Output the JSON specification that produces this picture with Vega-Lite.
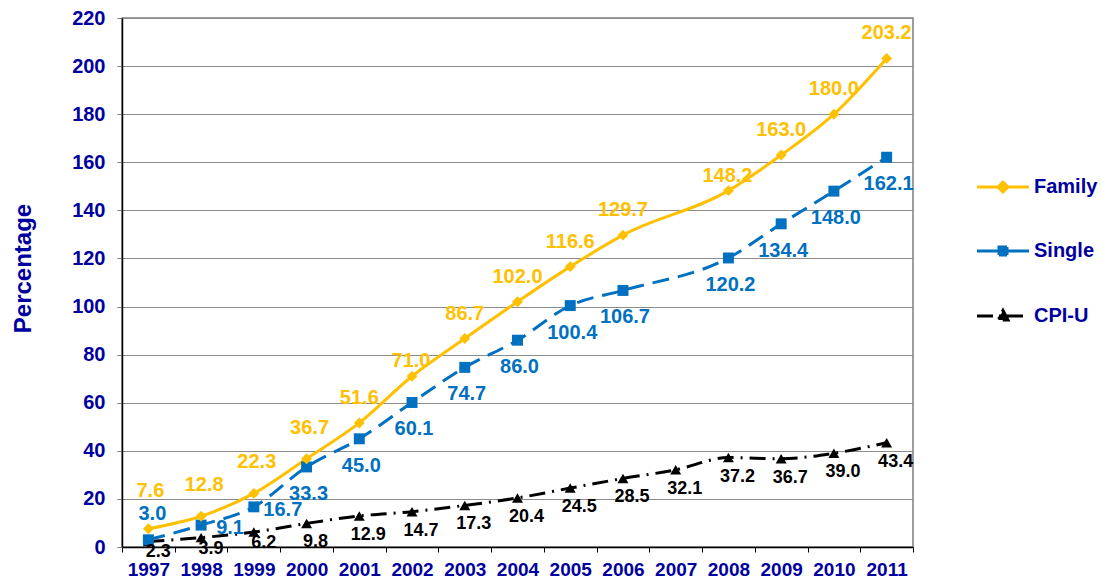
{
  "$schema": "https://vega.github.io/schema/vega-lite/v6.json",
  "width": 791,
  "height": 529,
  "autosize": {"type": "none"},
  "padding": {"left": 122, "top": 18, "right": 188, "bottom": 31},
  "background": "white",
  "config": {
    "font": "Liberation Sans",
    "view": {"stroke": "#7f7f7f", "strokeWidth": 1.5},
    "axis": {"labelFont": "Liberation Sans", "titleFont": "Liberation Sans"}
  },
  "data": {
    "values": [
      {"year": "1997", "series": "Family", "value": 7.6},
      {"year": "1998", "series": "Family", "value": 12.8},
      {"year": "1999", "series": "Family", "value": 22.3},
      {"year": "2000", "series": "Family", "value": 36.7},
      {"year": "2001", "series": "Family", "value": 51.6},
      {"year": "2002", "series": "Family", "value": 71.0},
      {"year": "2003", "series": "Family", "value": 86.7},
      {"year": "2004", "series": "Family", "value": 102.0},
      {"year": "2005", "series": "Family", "value": 116.6},
      {"year": "2006", "series": "Family", "value": 129.7},
      {"year": "2008", "series": "Family", "value": 148.2},
      {"year": "2009", "series": "Family", "value": 163.0},
      {"year": "2010", "series": "Family", "value": 180.0},
      {"year": "2011", "series": "Family", "value": 203.2},
      {"year": "1997", "series": "Single", "value": 3.0},
      {"year": "1998", "series": "Single", "value": 9.1},
      {"year": "1999", "series": "Single", "value": 16.7},
      {"year": "2000", "series": "Single", "value": 33.3},
      {"year": "2001", "series": "Single", "value": 45.0},
      {"year": "2002", "series": "Single", "value": 60.1},
      {"year": "2003", "series": "Single", "value": 74.7},
      {"year": "2004", "series": "Single", "value": 86.0},
      {"year": "2005", "series": "Single", "value": 100.4},
      {"year": "2006", "series": "Single", "value": 106.7},
      {"year": "2008", "series": "Single", "value": 120.2},
      {"year": "2009", "series": "Single", "value": 134.4},
      {"year": "2010", "series": "Single", "value": 148.0},
      {"year": "2011", "series": "Single", "value": 162.1},
      {"year": "1997", "series": "CPI-U", "value": 2.3},
      {"year": "1998", "series": "CPI-U", "value": 3.9},
      {"year": "1999", "series": "CPI-U", "value": 6.2},
      {"year": "2000", "series": "CPI-U", "value": 9.8},
      {"year": "2001", "series": "CPI-U", "value": 12.9},
      {"year": "2002", "series": "CPI-U", "value": 14.7},
      {"year": "2003", "series": "CPI-U", "value": 17.3},
      {"year": "2004", "series": "CPI-U", "value": 20.4},
      {"year": "2005", "series": "CPI-U", "value": 24.5},
      {"year": "2006", "series": "CPI-U", "value": 28.5},
      {"year": "2007", "series": "CPI-U", "value": 32.1},
      {"year": "2008", "series": "CPI-U", "value": 37.2},
      {"year": "2009", "series": "CPI-U", "value": 36.7},
      {"year": "2010", "series": "CPI-U", "value": 39.0},
      {"year": "2011", "series": "CPI-U", "value": 43.4}
    ]
  },
  "encoding": {
    "x": {
      "field": "year",
      "type": "ordinal",
      "sort": "ascending",
      "scale": {"paddingInner": 0, "paddingOuter": 0},
      "axis": {
        "title": null,
        "labelAngle": 0,
        "labelFontSize": 19,
        "labelFontWeight": "bold",
        "labelColor": "#0000A0",
        "labelPadding": 8,
        "tickBand": "extent",
        "tickSize": 5,
        "tickColor": "#000000",
        "domainColor": "#000000",
        "domainWidth": 1.5,
        "grid": false
      }
    },
    "y": {
      "field": "value",
      "type": "quantitative",
      "scale": {"domain": [0, 220], "nice": false},
      "axis": {
        "title": "Percentage",
        "titleFontSize": 24,
        "titleFontWeight": "bold",
        "titleColor": "#0000A0",
        "titlePadding": 36,
        "titleY": 250,
        "labelFontSize": 20,
        "labelFontWeight": "bold",
        "labelColor": "#0000A0",
        "labelPadding": 12,
        "tickCount": 11,
        "tickSize": 5,
        "tickColor": "#7f7f7f",
        "domainColor": "#000000",
        "domainWidth": 1.5,
        "grid": true,
        "gridColor": "#8c8c8c",
        "gridWidth": 1
      }
    }
  },
  "layer": [
    {
      "transform": [{"filter": "datum.series === 'CPI-U'"}],
      "mark": {"type": "line", "strokeWidth": 3, "interpolate": "monotone", "strokeDash": [16, 7, 2, 7]},
      "encoding": {
        "color": {
          "field": "series",
          "type": "nominal",
          "scale": {"domain": ["Family", "Single", "CPI-U"], "range": ["#FFC000", "#0070C0", "#000000"]},
          "legend": {
            "title": null,
            "orient": "none",
            "legendX": 871,
            "legendY": 159,
            "padding": 0,
            "symbolSize": 100,
            "symbolStrokeWidth": 3,
            "labelFontSize": 20,
            "labelFontWeight": "bold",
            "labelColor": "#0000A0",
            "labelOffset": 21,
            "rowPadding": 43,
            "encode": {
              "symbols": {
                "update": {
                  "shape": {"signal": "datum.value === 'Family' ? 'M-5.2,0L5.2,0M0,-1L1,0L0,1L-1,0Z' : datum.value === 'Single' ? 'M-5.2,0L5.2,0M-0.8,-0.8L0.8,-0.8L0.8,0.8L-0.8,0.8Z' : 'M-5.2,0L5.2,0M0,-1.1L1,0.8L-1,0.8Z'"},
                  "fill": {"signal": "scale('color', datum.value)"},
                  "stroke": {"signal": "scale('color', datum.value)"},
                  "strokeWidth": {"value": 3},
                  "strokeDash": {"signal": "datum.value === 'CPI-U' ? [16, 6, 2, 6] : [1, 0]"},
                  "opacity": {"value": 1}
                }
              }
            }
          }
        }
      }
    },
    {
      "transform": [{"filter": "datum.series === 'Single'"}],
      "mark": {"type": "line", "strokeWidth": 3, "interpolate": "monotone", "strokeDash": [17, 9]},
      "encoding": {
        "color": {"field": "series", "type": "nominal"}
      }
    },
    {
      "transform": [{"filter": "datum.series === 'Family'"}],
      "mark": {"type": "line", "strokeWidth": 3, "interpolate": "monotone"},
      "encoding": {
        "color": {"field": "series", "type": "nominal"}
      }
    },
    {
      "transform": [{"filter": "datum.series === 'CPI-U'"}],
      "mark": {"type": "point", "filled": true, "opacity": 1, "size": 120, "shape": "triangle-up", "color": "#000000"},
      "encoding": {}
    },
    {
      "transform": [{"filter": "datum.series === 'Single'"}],
      "mark": {"type": "point", "filled": true, "opacity": 1, "size": 120, "shape": "square", "color": "#0070C0"},
      "encoding": {}
    },
    {
      "transform": [{"filter": "datum.series === 'Family'"}],
      "mark": {"type": "point", "filled": true, "opacity": 1, "size": 120, "shape": "diamond", "color": "#FFC000"},
      "encoding": {}
    },
    {
      "transform": [{"filter": "datum.series === 'Family' && datum.year !== '1997' && datum.year !== '1998' && datum.year !== '1999' && datum.year !== '2000' && datum.year !== '2002' && datum.year !== '2008'"}],
      "mark": {"type": "text", "fontSize": 20, "fontWeight": "bold", "color": "#FFC000", "dy": -25, "baseline": "middle", "align": "center"},
      "encoding": {"text": {"field": "value", "type": "quantitative", "format": ".1f"}}
    },
    {
      "transform": [{"filter": "datum.series === 'Family' && datum.year === '1997'"}],
      "mark": {"type": "text", "fontSize": 20, "fontWeight": "bold", "color": "#FFC000", "dy": -38, "dx": 2, "baseline": "middle", "align": "center"},
      "encoding": {"text": {"field": "value", "type": "quantitative", "format": ".1f"}}
    },
    {
      "transform": [{"filter": "datum.series === 'Family' && (datum.year === '1998' || datum.year === '1999' || datum.year === '2000')"}],
      "mark": {"type": "text", "fontSize": 20, "fontWeight": "bold", "color": "#FFC000", "dy": -31, "dx": 3, "baseline": "middle", "align": "center"},
      "encoding": {"text": {"field": "value", "type": "quantitative", "format": ".1f"}}
    },
    {
      "transform": [{"filter": "datum.series === 'Family' && (datum.year === '2002' || datum.year === '2008')"}],
      "mark": {"type": "text", "fontSize": 20, "fontWeight": "bold", "color": "#FFC000", "dy": -15, "dx": -1, "baseline": "middle", "align": "center"},
      "encoding": {"text": {"field": "value", "type": "quantitative", "format": ".1f"}}
    },
    {
      "transform": [{"filter": "datum.series === 'Single' && datum.year !== '1997' && datum.year !== '1998' && datum.year !== '1999'"}],
      "mark": {"type": "text", "fontSize": 20, "fontWeight": "bold", "color": "#0070C0", "dy": 27, "dx": 2, "baseline": "middle", "align": "center"},
      "encoding": {"text": {"field": "value", "type": "quantitative", "format": ".1f"}}
    },
    {
      "transform": [{"filter": "datum.series === 'Single' && datum.year === '1997'"}],
      "mark": {"type": "text", "fontSize": 20, "fontWeight": "bold", "color": "#0070C0", "dy": -26, "dx": 4, "baseline": "middle", "align": "center"},
      "encoding": {"text": {"field": "value", "type": "quantitative", "format": ".1f"}}
    },
    {
      "transform": [{"filter": "datum.series === 'Single' && (datum.year === '1998' || datum.year === '1999')"}],
      "mark": {"type": "text", "fontSize": 20, "fontWeight": "bold", "color": "#0070C0", "dy": 3, "dx": 29, "baseline": "middle", "align": "center"},
      "encoding": {"text": {"field": "value", "type": "quantitative", "format": ".1f"}}
    },
    {
      "transform": [{"filter": "datum.series === 'CPI-U' && datum.year !== '1997' && datum.year !== '1998' && datum.year !== '1999'"}],
      "mark": {"type": "text", "fontSize": 18, "fontWeight": "bold", "color": "#000000", "dy": 19, "dx": 9, "baseline": "middle", "align": "center"},
      "encoding": {"text": {"field": "value", "type": "quantitative", "format": ".1f"}}
    },
    {
      "transform": [{"filter": "datum.series === 'CPI-U' && (datum.year === '1997' || datum.year === '1998' || datum.year === '1999')"}],
      "mark": {"type": "text", "fontSize": 18, "fontWeight": "bold", "color": "#000000", "dy": 11, "dx": 10, "baseline": "middle", "align": "center"},
      "encoding": {"text": {"field": "value", "type": "quantitative", "format": ".1f"}}
    }
  ]
}
